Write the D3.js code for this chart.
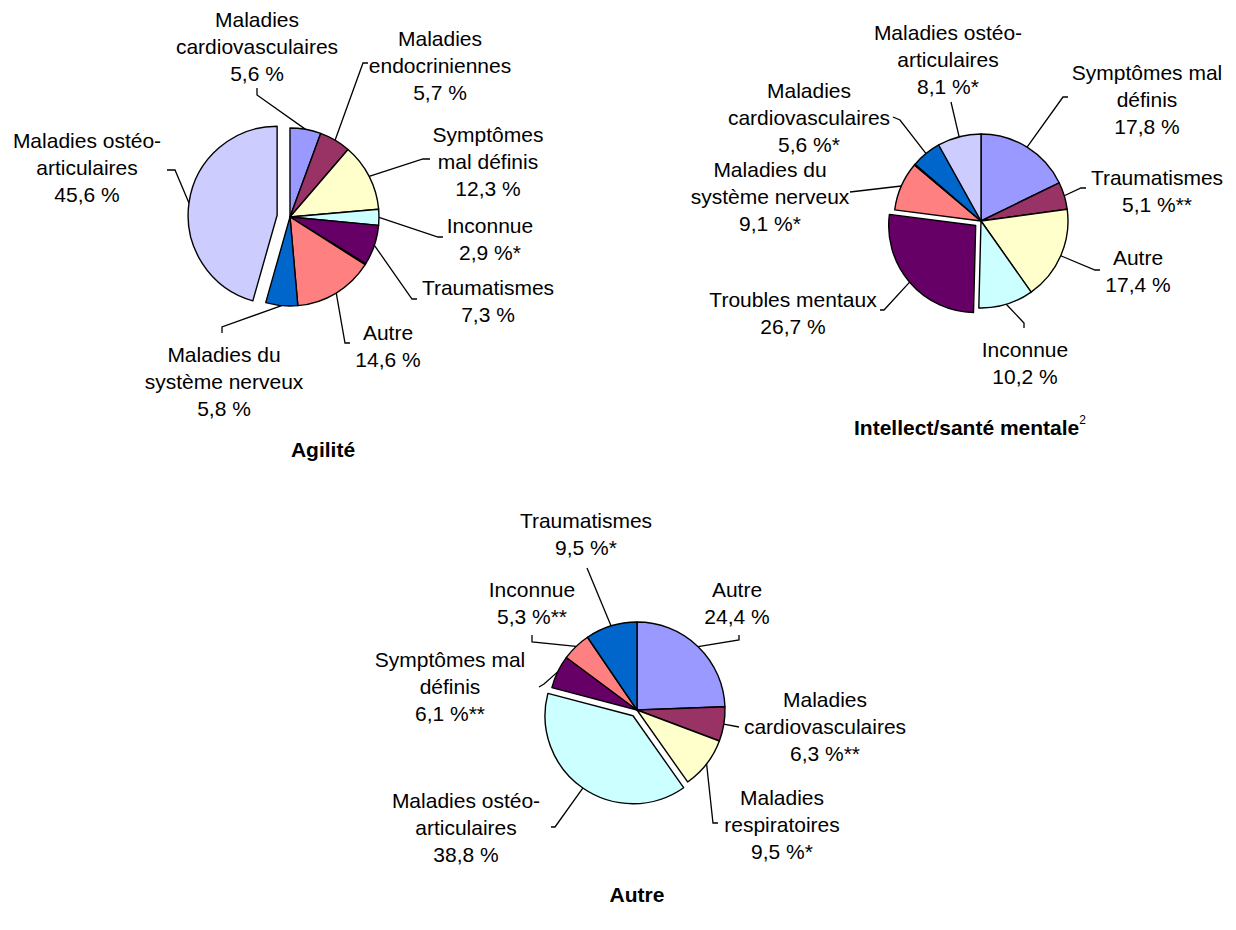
<!DOCTYPE html>
<html lang="fr">
<head>
  <meta charset="UTF-8">
  <title>Causes des incapacités par type</title>
  <script src="https://d3js.org/d3.v7.min.js"></script>
  <style>
    body { margin: 0; background: #fff; }
    svg { display: block; }
    text { font-family: "Liberation Sans", Arial, sans-serif; font-size: 21px; fill: #000; }
    .title { font-weight: bold; }
    .slice { stroke: #000; stroke-width: 1.4; stroke-linejoin: round; }
    .leader { fill: none; stroke: #000; stroke-width: 1.3; }
  </style>
</head>
<body>
  <svg width="1236" height="930"></svg>

  <script>
    // Agilité
    const agiliteCategories = ["Maladies\ncardiovasculaires", "Maladies\nendocriniennes", "Symptômes\nmal définis",
      "Inconnue", "Traumatismes", "", "Autre", "Maladies du\nsystème nerveux", "Maladies ostéo-\narticulaires"];
    const agiliteValues = [5.6, 5.7, 12.3, 2.9, 7.3, 0.2, 14.6, 5.8, 45.6];
    const agiliteFlags = ["", "", "", "*", "", "", "", "", ""];

    // Intellect/santé mentale
    const mentaleCategories = ["Symptômes mal\ndéfinis", "Traumatismes", "Autre", "Inconnue", "Troubles mentaux",
      "Maladies du\nsystème nerveux", "", "Maladies\ncardiovasculaires", "Maladies ostéo-\narticulaires"];
    const mentaleValues = [17.8, 5.1, 17.4, 10.2, 26.7, 9.1, 0.2, 5.6, 8.1];
    const mentaleFlags = ["", "**", "", "", "", "*", "", "*", "*"];

    // Autre
    const autreCategories = ["Autre", "Maladies\ncardiovasculaires", "Maladies\nrespiratoires", "Maladies ostéo-\narticulaires",
      "Symptômes mal\ndéfinis", "Inconnue", "Traumatismes"];
    const autreValues = [24.4, 6.3, 9.5, 38.8, 6.1, 5.3, 9.5];
    const autreFlags = ["", "**", "*", "", "**", "**", "*"];

    const palette = ["#9999FF", "#993366", "#FFFFCC", "#CCFFFF", "#660066", "#FF8080", "#0066CC", "#CCCCFF"];
    const agiliteColors = [palette[0], palette[1], palette[2], palette[3], palette[4], "#FFFFFF", palette[5], palette[6], palette[7]];
    const mentaleColors = [palette[0], palette[1], palette[2], palette[3], palette[4], palette[5], "#FFFFFF", palette[6], palette[7]];
    const autreColors = palette.slice(0, 7);

    // layout: pie centre, radius, exploded slice, label anchors and leader hooks
    const charts = [
      {
        categories: agiliteCategories, values: agiliteValues, flags: agiliteFlags, colors: agiliteColors,
        cx: 290, cy: 217, r: 89, explode: 8, explodeDist: 13,
        title: "Agilité", sup: null, tx: 323, ty: 457,
        labels: [
          { x: 257, y: 27, hook: [[257, 88], [257, 95]] },
          { x: 440, y: 46, hook: [[368, 63], [363, 63]] },
          { x: 488, y: 142, hook: [[430, 159], [423, 159]] },
          { x: 490, y: 233, hook: [[443, 237], [438, 237]] },
          { x: 488, y: 295, hook: [[417, 299], [412, 299]] },
          null,
          { x: 388, y: 340, hook: [[350, 343], [345, 343]] },
          { x: 224, y: 362, hook: [[222, 333], [222, 327]] },
          { x: 87, y: 148, hook: [[167, 170], [175, 170]] }
        ]
      },
      {
        categories: mentaleCategories, values: mentaleValues, flags: mentaleFlags, colors: mentaleColors,
        cx: 981, cy: 221, r: 87, explode: 4, explodeDist: 7,
        title: "Intellect/santé mentale", sup: "2", tx: 970, ty: 435,
        labels: [
          { x: 1147, y: 80, hook: [[1068, 97], [1063, 97]] },
          { x: 1157, y: 185, hook: [[1086, 188], [1081, 188]] },
          { x: 1138, y: 265, hook: [[1100, 270], [1095, 270]] },
          { x: 1025, y: 357, hook: [[1024, 328], [1024, 323]] },
          { x: 793, y: 307, hook: [[880, 310], [884, 310]] },
          { x: 770, y: 177, hook: [[850, 192]] },
          null,
          { x: 809, y: 98, hook: [[893, 117], [900, 120]] },
          { x: 948, y: 40, hook: [[951, 102]] }
        ]
      },
      {
        categories: autreCategories, values: autreValues, flags: autreFlags, colors: autreColors,
        cx: 637, cy: 710, r: 88, explode: 3, explodeDist: 7,
        title: "Autre", sup: null, tx: 637, ty: 902,
        labels: [
          { x: 737, y: 597, hook: [[739, 635], [739, 640]] },
          { x: 825, y: 707, hook: [[739, 727]] },
          { x: 782, y: 805, hook: [[718, 823], [713, 823]] },
          { x: 466, y: 808, hook: [[551, 827], [555, 827]] },
          { x: 450, y: 667, hook: [[539, 687], [544, 684]] },
          { x: 532, y: 597, hook: [[532, 635], [532, 642]] },
          { x: 586, y: 528, hook: [[587, 568]] }
        ]
      }
    ];

    const lineGap = 27;
    const fr = d3.formatLocale({ decimal: ",", thousands: " ", grouping: [3], currency: ["", ""] });
    const fmt = fr.format(".1f");

    const svg = d3.select("svg");
    const pie = d3.pie().sort(null).value(d => d.value);

    charts.forEach(c => {
      const rows = c.values.map((v, i) => ({
        value: v, name: c.categories[i], flag: c.flags[i], color: c.colors[i], label: c.labels[i]
      }));
      const arcs = pie(rows);
      const arc = d3.arc().innerRadius(0).outerRadius(c.r);
      const mid = d => (d.startAngle + d.endAngle) / 2;
      const shift = (d, i) => (i === c.explode ? c.explodeDist : 0);

      const g = svg.append("g").attr("transform", `translate(${c.cx},${c.cy})`);
      g.selectAll("path")
        .data(arcs)
        .join("path")
        .attr("class", "slice")
        .attr("fill", d => d.data.color)
        .attr("transform", (d, i) => {
          const k = shift(d, i);
          return `translate(${Math.sin(mid(d)) * k},${-Math.cos(mid(d)) * k})`;
        })
        .attr("d", arc);

      arcs.forEach((d, i) => {
        const lab = d.data.label;
        if (!lab) return;
        const rr = c.r + shift(d, i);
        const end = [c.cx + Math.sin(mid(d)) * rr, c.cy - Math.cos(mid(d)) * rr];
        svg.append("path")
          .attr("class", "leader")
          .attr("d", d3.line()([...lab.hook, end]));

        const lines = d.data.name.split("\n").concat(fmt(d.data.value) + " %" + d.data.flag);
        const t = svg.append("text").attr("text-anchor", "middle");
        lines.forEach((s, j) => {
          t.append("tspan").attr("x", lab.x).attr("y", lab.y + j * lineGap).text(s);
        });
      });

      const title = svg.append("text")
        .attr("class", "title")
        .attr("text-anchor", "middle")
        .attr("x", c.tx)
        .attr("y", c.ty);
      title.append("tspan").text(c.title);
      if (c.sup) {
        title.append("tspan")
          .attr("dy", -11)
          .style("font-size", "12px")
          .style("font-weight", "normal")
          .text(c.sup);
      }
    });
  </script>
</body>
</html>
